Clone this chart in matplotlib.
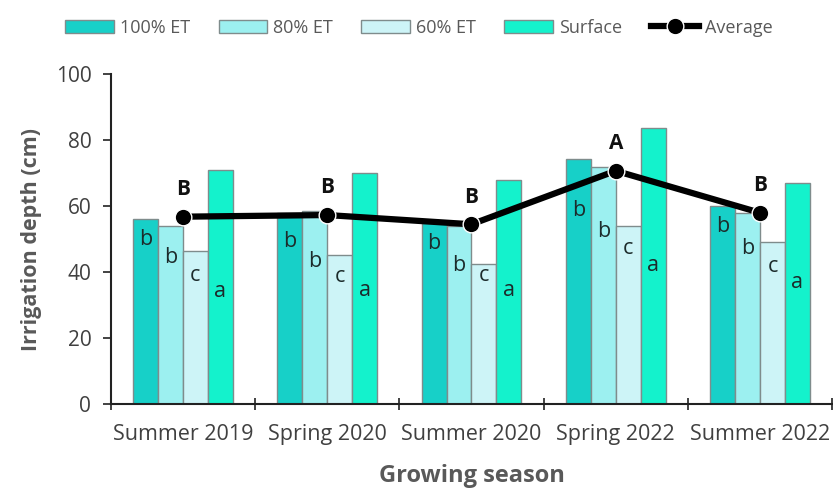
import numpy as np
import matplotlib.pyplot as plt

seasons = ['Summer 2019', 'Spring 2020', 'Summer 2020', 'Spring 2022', 'Summer 2022']
et100 = [56.0, 58.0, 55.0, 74.2, 60.1]
et80 = [54.0, 58.5, 54.0, 72.0, 57.8]
et60 = [46.5, 45.2, 42.6, 54.0, 49.2]
surface = [71.0, 69.9, 68.0, 83.8, 66.9]
average = [56.8, 57.3, 54.5, 70.7, 58.0]

letters_100 = ['b', 'b', 'b', 'b', 'b']
letters_80 = ['b', 'b', 'b', 'b', 'b']
letters_60 = ['c', 'c', 'c', 'c', 'c']
letters_surf = ['a', 'a', 'a', 'a', 'a']
letters_avg = ['B', 'B', 'B', 'A', 'B']

# heights where the letters sit inside the bars
label_y_100 = [49.8, 49.2, 48.7, 58.8, 53.7]
label_y_80 = [44.5, 43.1, 42.1, 52.2, 47.2]
label_y_60 = [39.0, 38.6, 39.0, 47.2, 41.6]
label_y_surf = [34.2, 34.5, 34.5, 41.9, 37.0]

plt.rcParams['font.family'] = ['Open Sans', 'DejaVu Sans']

fig = plt.figure(figsize=(8.33, 4.88), dpi=100)
ax = fig.add_axes([0.133, 0.172, 0.866, 0.676])

x = np.arange(len(seasons))
w = 0.173
series = [
    (et100, '#17d0c8', '100% ET', letters_100, label_y_100),
    (et80, '#9cf0f0', '80% ET', letters_80, label_y_80),
    (et60, '#cdf4f7', '60% ET', letters_60, label_y_60),
    (surface, '#14f2cc', 'Surface', letters_surf, label_y_surf),
]
handles = []
for i, (vals, col, name, lets, ly) in enumerate(series):
    pos = x + (i - 1.5) * w
    b = ax.bar(pos, vals, width=w, color=col, edgecolor='#7f8c8c', linewidth=1.0, label=name, zorder=2)
    handles.append(b)
    for px, t, yy in zip(pos, lets, ly):
        ax.text(px, yy, t, ha='center', va='center', fontsize=15.5, color='#1c2b2b', zorder=3)

ln, = ax.plot(x, average, color='black', linewidth=4.5, marker='o', markersize=12,
              markeredgecolor='white', markeredgewidth=1.0, label='Average', zorder=4)
handles.append(ln)
for px, v, t in zip(x, average, letters_avg):
    ax.annotate(t, (px, v), xytext=(0, 12), textcoords='offset points', ha='center', va='bottom',
                fontsize=15, fontweight='bold', color='#111111', zorder=5)

ax.set_xlim(-0.5, 4.5)
ax.set_ylim(0, 100)
ax.set_yticks([0, 20, 40, 60, 80, 100])
ax.set_xticks(x)
ax.set_xticklabels(seasons)
ax.set_xticks(np.arange(-0.5, 5.0, 1.0), minor=True)
ax.tick_params(axis='x', which='major', length=0, pad=14, labelsize=15.5, labelcolor='#404040')
ax.tick_params(axis='x', which='minor', length=8, width=1.2, direction='inout', color='#222222')
ax.tick_params(axis='y', length=6, width=1.2, labelsize=15, labelcolor='#404040', color='#222222', pad=8)
for s in ['top', 'right']:
    ax.spines[s].set_visible(False)
for s in ['left', 'bottom']:
    ax.spines[s].set_linewidth(1.5)
    ax.spines[s].set_color('#222222')

ax.set_ylabel('Irrigation depth (cm)', fontsize=15.5, fontweight='bold', color='#595959', labelpad=10)
ax.set_xlabel('Growing season', fontsize=17, fontweight='bold', color='#595959', labelpad=14)

leg = fig.legend(handles=handles, loc='upper center', bbox_to_anchor=(0.503, 0.995), ncol=5, frameon=False,
                 fontsize=13, handlelength=2.7, handleheight=0.72, handletextpad=0.3, columnspacing=1.6)
for t in leg.get_texts():
    t.set_color('#595959')

fig.savefig('out.png', dpi=100)
